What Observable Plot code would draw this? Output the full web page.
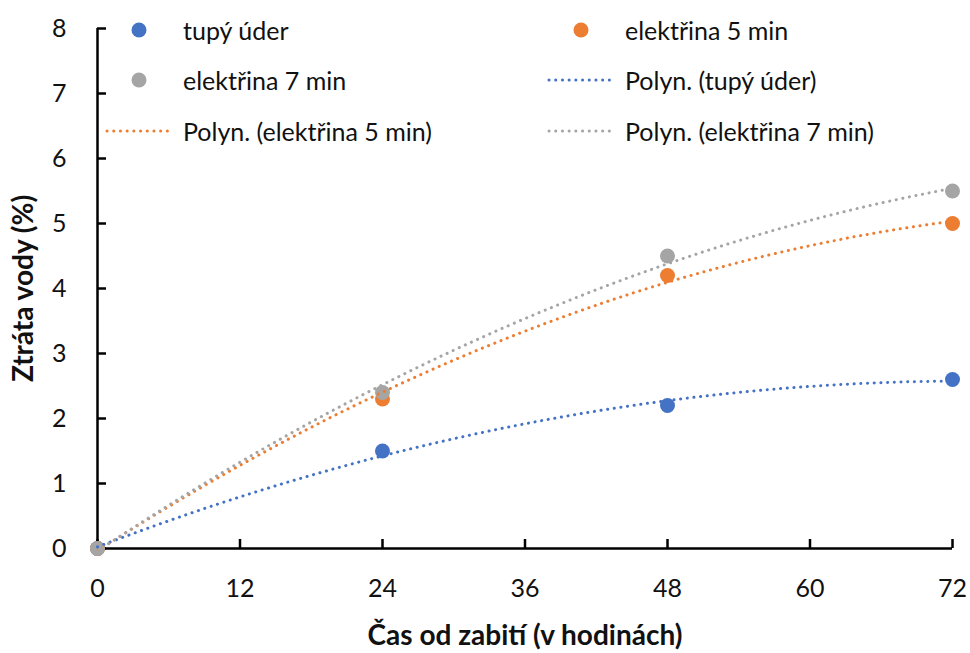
<!DOCTYPE html>
<html>
<head>
<meta charset="utf-8">
<script src="https://cdn.jsdelivr.net/npm/d3@7"></script>
<script src="https://cdn.jsdelivr.net/npm/@observablehq/plot@0.6"></script>
<style>
  body { margin: 0; background: #fff; }
  #chart { position: relative; width: 970px; height: 653px; font-family: Lato, "Open Sans", sans-serif; color: #111; }
  #chart > svg { position: absolute; left: 0; top: 0; }
  g[aria-label$="axis label"] { font-weight: bold; font-size: 28px; }
  .legend-item { position: absolute; height: 30px; display: flex; align-items: center; font-size: 25px; white-space: nowrap; }
  .legend-item svg { display: block; margin-right: 13px; }
</style>
</head>
<body>
<div id="chart"></div>
<script>
// Water loss (%) over hours since slaughter, by stunning method
const hours = [0, 24, 48, 72];
const tupyUder = [0, 1.5, 2.2, 2.6];
const elektrina5 = [0, 2.3, 4.2, 5.0];
const elektrina7 = [0, 2.4, 4.5, 5.5];

const seriesNames = ["tupý úder", "elektřina 5 min", "elektřina 7 min"];
const seriesColors = ["#4472C4", "#ED7D31", "#A5A5A5"];
const seriesValues = [tupyUder, elektrina5, elektrina7];

const xTicks = [0, 12, 24, 36, 48, 60, 72];
const yTicks = [0, 1, 2, 3, 4, 5, 6, 7, 8];

// Long-format table of the measured points
const points = seriesNames.flatMap((name, i) =>
  hours.map((h, j) => ({series: name, hour: h, loss: seriesValues[i][j]}))
);

// Second-order least-squares polynomial trendline for one series
function quadFit(xs, ys) {
  const S = k => d3.sum(xs, x => x ** k);
  const T = k => d3.sum(xs, (x, i) => x ** k * ys[i]);
  const A = [[S(0), S(1), S(2), T(0)], [S(1), S(2), S(3), T(1)], [S(2), S(3), S(4), T(2)]];
  for (let c = 0; c < 3; c++) {
    for (let r = c + 1; r < 3; r++) {
      const f = A[r][c] / A[c][c];
      for (let k = c; k < 4; k++) A[r][k] -= f * A[c][k];
    }
  }
  const coef = [0, 0, 0];
  for (let r = 2; r >= 0; r--) {
    let s = A[r][3];
    for (let k = r + 1; k < 3; k++) s -= A[r][k] * coef[k];
    coef[r] = s / A[r][r];
  }
  return x => coef[0] + coef[1] * x + coef[2] * x * x;
}

const trendHours = d3.range(0, 72.001, 0.5);
const trends = seriesNames.flatMap((name, i) => {
  const f = quadFit(hours, seriesValues[i]);
  return trendHours.map(h => ({series: name, hour: h, loss: f(h)}));
});

const dotted = {strokeWidth: 3, strokeDasharray: "0.1 6.6", strokeLinecap: "round"};

const W = 970, H = 653;
const margin = {top: 28, right: 18, bottom: 105, left: 97};
const tickLen = 9;

const plot = Plot.plot({
  width: W,
  height: H,
  marginLeft: margin.left,
  marginRight: margin.right,
  marginTop: margin.top,
  marginBottom: margin.bottom,
  style: {fontFamily: "Lato, 'Open Sans', sans-serif", fontSize: "25px", color: "#111", background: "transparent"},
  x: {domain: [0, 72]},
  y: {domain: [0, 8]},
  color: {domain: seriesNames, range: seriesColors},
  marks: [
    Plot.axisX({ticks: xTicks, tickSize: 0, tickPadding: 31, label: null}),
    Plot.axisX({ticks: [], label: "Čas od zabití (v hodinách)", labelAnchor: "center", labelOffset: 96, labelArrow: "none", dx: -14}),
    Plot.axisY({ticks: yTicks, tickSize: 0, tickPadding: 31, label: "Ztráta vody (%)", labelAnchor: "center", labelOffset: 84, labelArrow: "none"}),
    // inward-pointing tick marks on both axes
    Plot.tickX(xTicks, {x: d => d, stroke: "#000", strokeWidth: 2.5, insetTop: H - margin.top - margin.bottom - tickLen}),
    Plot.tickY(yTicks, {y: d => d, stroke: "#000", strokeWidth: 2.5, insetRight: W - margin.left - margin.right - tickLen}),
    Plot.ruleY([0], {stroke: "#000", strokeWidth: 2.5}),
    Plot.ruleX([0], {stroke: "#000", strokeWidth: 2.5}),
    Plot.dot(points, {x: "hour", y: "loss", fill: "series", r: 7.5}),
    Plot.line(trends, {x: "hour", y: "loss", stroke: "series", z: "series", ...dotted})
  ]
});

const chart = document.getElementById("chart");
chart.appendChild(plot);

// Legend laid over the top of the plot area, two columns by three rows
const legendItems = [
  {label: "tupý úder", color: seriesColors[0], kind: "dot", col: 0, row: 0},
  {label: "elektřina 5 min", color: seriesColors[1], kind: "dot", col: 1, row: 0},
  {label: "elektřina 7 min", color: seriesColors[2], kind: "dot", col: 0, row: 1},
  {label: "Polyn. (tupý úder)", color: seriesColors[0], kind: "line", col: 1, row: 1},
  {label: "Polyn. (elektřina 5 min)", color: seriesColors[1], kind: "line", col: 0, row: 2},
  {label: "Polyn. (elektřina 7 min)", color: seriesColors[2], kind: "line", col: 1, row: 2}
];
const colLeft = [105, 547];
const rowTop = [15, 65, 116];
for (const item of legendItems) {
  const div = document.createElement("div");
  div.className = "legend-item";
  div.style.left = colLeft[item.col] + "px";
  div.style.top = rowTop[item.row] + "px";
  const sw = d3.create("svg").attr("width", 65).attr("height", 16);
  if (item.kind === "dot") {
    sw.append("circle").attr("cx", 34).attr("cy", 8).attr("r", 7.5).attr("fill", item.color);
  } else {
    sw.append("line").attr("x1", 2).attr("x2", 63).attr("y1", 8).attr("y2", 8)
      .attr("stroke", item.color).attr("stroke-width", 3)
      .attr("stroke-dasharray", "0.1 6.6").attr("stroke-linecap", "round");
  }
  div.appendChild(sw.node());
  const span = document.createElement("span");
  span.textContent = item.label;
  div.appendChild(span);
  chart.appendChild(div);
}
</script>
</body>
</html>
